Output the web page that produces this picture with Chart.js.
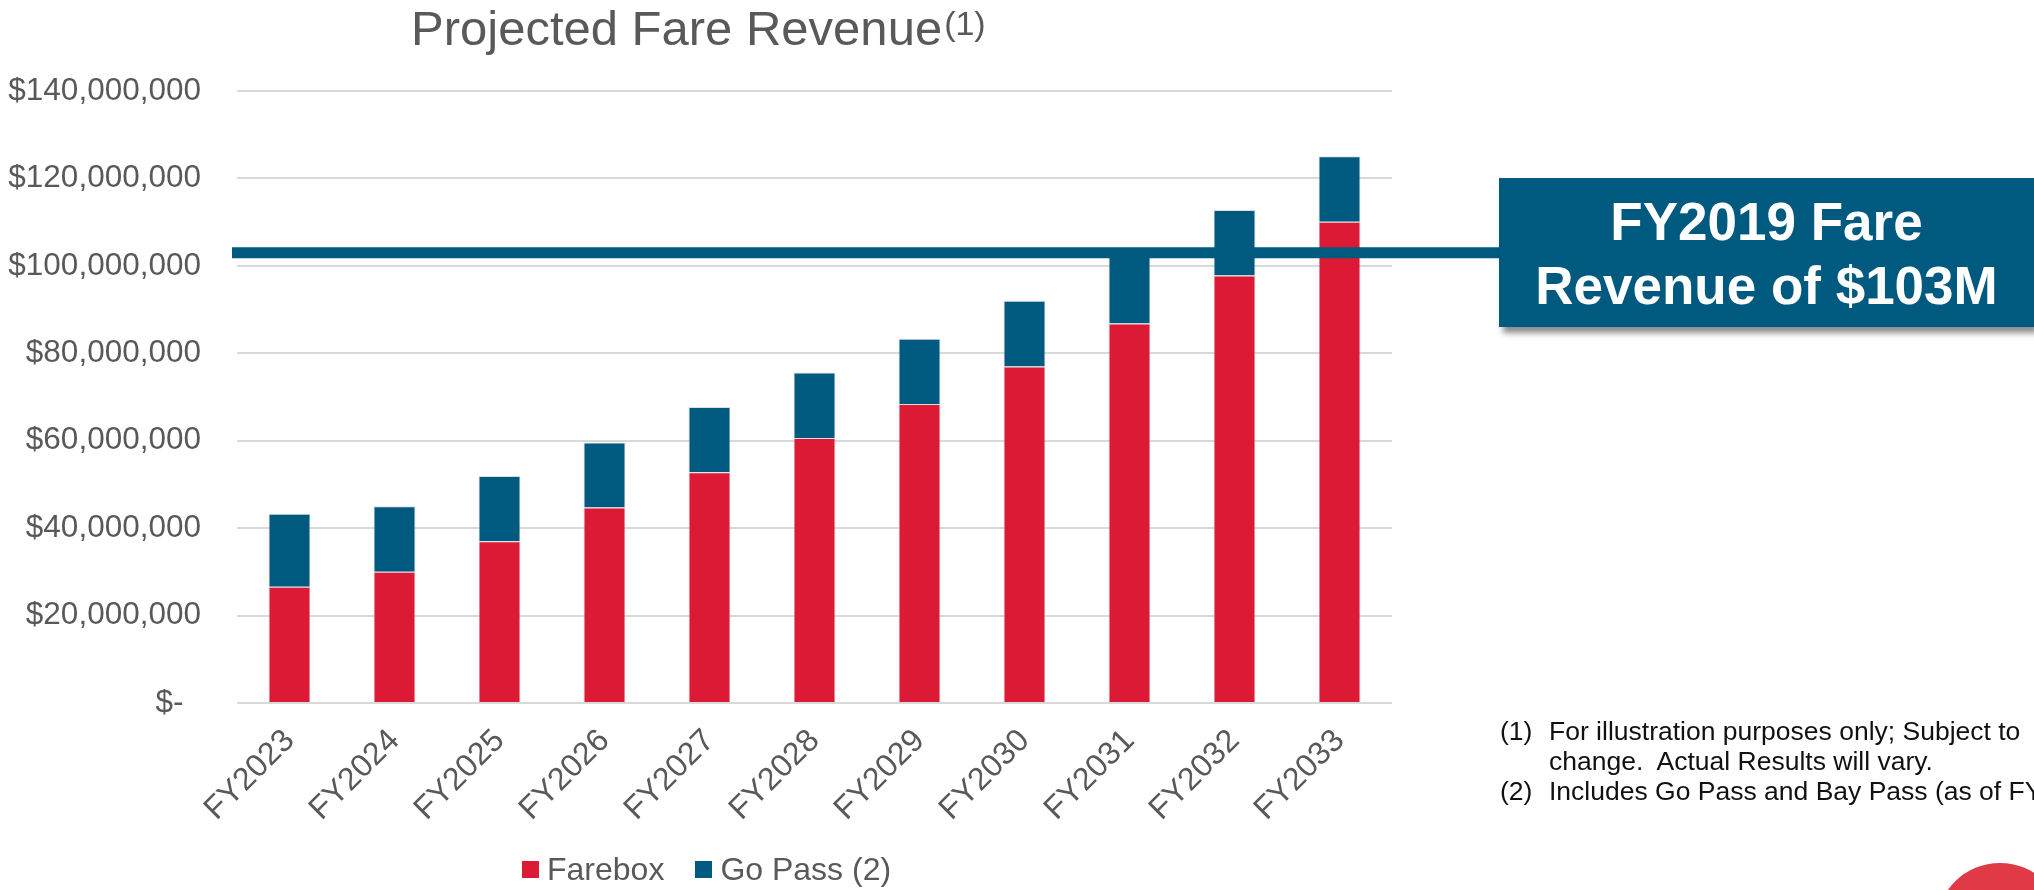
<!DOCTYPE html>
<html>
<head>
<meta charset="utf-8">
<title>Projected Fare Revenue</title>
<script src="https://cdn.jsdelivr.net/npm/chart.js@4.4.1/dist/chart.umd.min.js"></script>
<style>
  html, body { margin: 0; padding: 0; background: #fff; }
  body {
    width: 2034px; height: 890px; overflow: hidden; position: relative;
    font-family: 'Liberation Sans', Arial, sans-serif;
  }
  #fare-chart { position: absolute; left: 0; top: 0; }

  .title {
    position: absolute; left: 411px; top: 4px;
    font-size: 49px; line-height: 49px; color: #595959; white-space: nowrap;
  }
  .title sup { font-size: 34px; vertical-align: baseline; position: relative; top: -10px; margin-left: 2px; }

  .callout {
    position: absolute; left: 1499px; top: 178px; width: 535px; height: 149px;
    box-sizing: border-box; padding-top: 12px;
    background: #00597e; color: #fff; box-shadow: 4px 6px 6px rgba(0,0,0,0.45);
    font-weight: bold; font-size: 53px; line-height: 64px; text-align: center;
  }

  .notes {
    position: absolute; left: 1500px; top: 716px;
    font-size: 26.5px; line-height: 30px; color: #111; white-space: nowrap;
  }
  .notes .row { display: flex; }
  .notes .k { width: 49px; flex: none; }

  .legend {
    position: absolute; left: 522px; top: 849px; height: 40px;
    display: flex; align-items: center; font-size: 32px; color: #595959; white-space: nowrap;
  }
  .legend .item { display: flex; align-items: center; margin-right: 31px; }
  .legend .sw { width: 17px; height: 17px; margin-right: 8px; }

  .logo-dot {
    position: absolute; left: 1936px; top: 863px; width: 128px; height: 128px;
    border-radius: 50%; background: #e03a46;
  }
</style>
</head>
<body>
<canvas id="fare-chart" width="2034" height="890"></canvas>

<div class="title">Projected Fare Revenue<sup>(1)</sup></div>
<div class="callout">FY2019 Fare<br>Revenue of $103M</div>
<div class="notes">
  <div class="row"><span class="k">(1)</span><span>For illustration purposes only; Subject to<br>change.&nbsp; Actual Results will vary.</span></div>
  <div class="row"><span class="k">(2)</span><span>Includes Go Pass and Bay Pass (as of FY</span></div>
</div>
<div class="legend" id="fare-legend"></div>
<div class="logo-dot"></div>

<script>
// Projected fare revenue (dollars)
const categories = ['FY2023', 'FY2024', 'FY2025', 'FY2026', 'FY2027', 'FY2028',
                    'FY2029', 'FY2030', 'FY2031', 'FY2032', 'FY2033'];
const fareboxValues = [26600000, 30000000, 37000000, 44700000, 52800000, 60600000,
                       68400000, 77000000, 86800000, 97800000, 110100000];
const goPassValues  = [16700000, 15000000, 14900000, 14900000, 14900000, 15000000,
                       14900000, 15000000, 15500000, 15000000, 15000000];
const seriesLabels  = ['Farebox', 'Go Pass (2)'];

// y axis: $0 .. $140M every $20M
const Y_MAX  = 140000000;
const Y_STEP = 20000000;

// FY2019 benchmark drawn across the plot
const FY2019_FARE_REVENUE = 103000000;

const RED  = '#dc1a35';
const BLUE = '#00597e';
const GREY = '#595959';

Chart.defaults.font.family = "'Liberation Sans', Arial, sans-serif";

function fmtDollar(v) {
  if (v === 0) return '$-  ';
  return '$' + v.toLocaleString('en-US');
}

// thick blue benchmark line, runs from the axis into the callout box
const benchmarkLine = {
  id: 'benchmarkLine',
  afterDatasetsDraw(chart) {
    const { ctx, chartArea, scales } = chart;
    const py = scales.y.getPixelForValue(FY2019_FARE_REVENUE);
    ctx.save();
    ctx.strokeStyle = BLUE;
    ctx.lineWidth = 11;
    ctx.beginPath();
    ctx.moveTo(chartArea.left - 5, py);
    ctx.lineTo(1502, py);
    ctx.stroke();
    ctx.restore();
  }
};

const chart = new Chart(document.getElementById('fare-chart'), {
  type: 'bar',
  data: {
    labels: categories,
    datasets: [
      { label: seriesLabels[0], data: fareboxValues, backgroundColor: RED,
        borderColor: 'rgba(200,200,200,0.6)', borderWidth: 1 },
      { label: seriesLabels[1], data: goPassValues, backgroundColor: BLUE,
        borderColor: 'rgba(200,200,200,0.6)', borderWidth: 1 },
    ],
  },
  options: {
    responsive: false,
    animation: false,
    devicePixelRatio: 1,
    layout: { padding: { left: 1, right: 642, top: 91, bottom: 0 } },
    datasets: { bar: { categoryPercentage: 1, barPercentage: 0.4 } },
    plugins: {
      legend: { display: false },
      title: { display: false },
      tooltip: { enabled: false },
    },
    scales: {
      x: {
        stacked: true,
        grid: { display: false },
        border: { display: false },
        ticks: {
          color: GREY, font: { size: 32 }, padding: 11,
          minRotation: 45, maxRotation: 45, autoSkip: false,
        },
        afterFit(scale) { scale.height = 187; },
      },
      y: {
        stacked: true,
        min: 0,
        max: Y_MAX,
        grid: { color: '#d9d9d9', lineWidth: 2, drawTicks: false },
        border: { display: false },
        ticks: {
          stepSize: Y_STEP, padding: 36, color: GREY, font: { size: 31.5 },
          callback: v => fmtDollar(v),
        },
        afterFit(scale) { scale.width = 236; },
      },
    },
  },
  plugins: [benchmarkLine],
});

// legend built from the chart's own datasets
const legendEl = document.getElementById('fare-legend');
chart.data.datasets.forEach(ds => {
  const item = document.createElement('div');
  item.className = 'item';
  const sw = document.createElement('span');
  sw.className = 'sw';
  sw.style.background = ds.backgroundColor;
  const txt = document.createElement('span');
  txt.textContent = ds.label;
  item.appendChild(sw);
  item.appendChild(txt);
  legendEl.appendChild(item);
});
</script>
</body>
</html>
